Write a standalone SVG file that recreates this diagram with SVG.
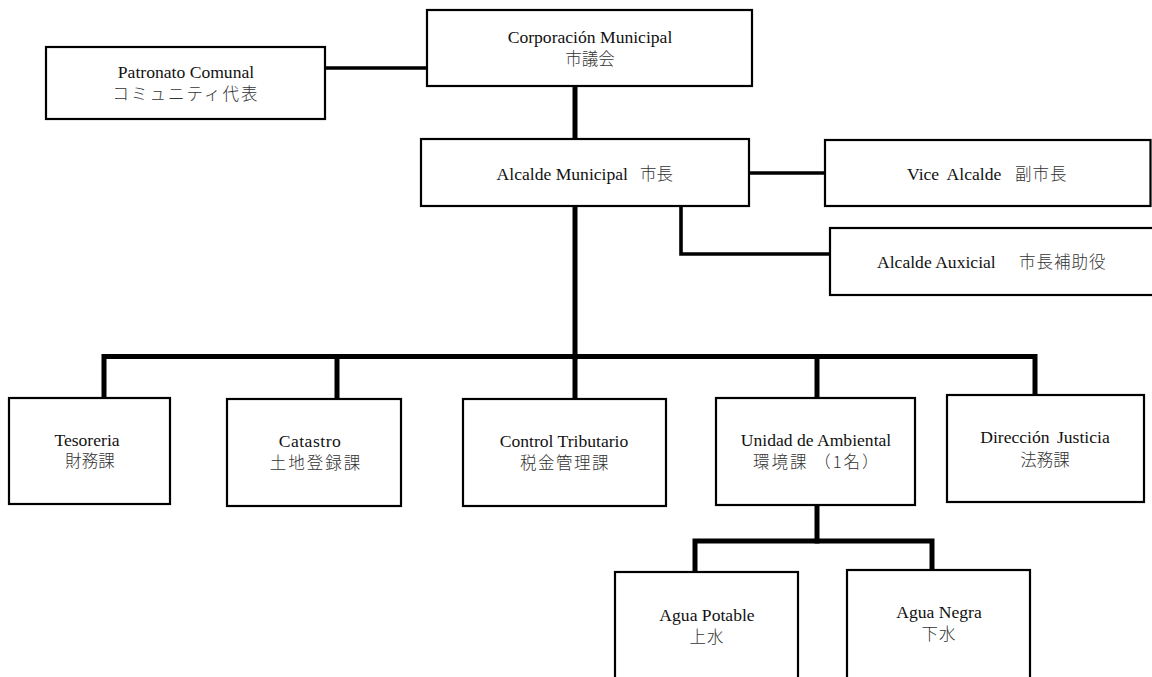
<svg xmlns="http://www.w3.org/2000/svg" width="1152" height="677" viewBox="0 0 1152 677">
  <style>
    .box { fill: #ffffff; stroke: #000000; stroke-width: 2.2; }
    .wire { fill: none; stroke: #000000; stroke-width: 5; stroke-linecap: square; stroke-linejoin: miter; }
    .thin { stroke-width: 3.6; }
    .lat { font-family: "Liberation Serif", "Times New Roman", serif; font-size: 17.6px; fill: #111111; }
    .jp { font-family: "Noto Sans CJK JP", "Noto Sans CJK SC", sans-serif; font-size: 16.5px; font-weight: 300; fill: #333333; }
    .mid { text-anchor: middle; }
  </style>
  <rect width="1152" height="677" fill="#ffffff"/>

  <!-- connectors -->
  <g id="connectors">
    <path class="wire thin" d="M326,68 H427"/>
    <path class="wire" d="M575,87 V139"/>
    <path class="wire thin" d="M750,173 H825"/>
    <path class="wire thin" d="M681,207 V254 H830"/>
    <path class="wire" d="M575,207 V357"/>
    <path class="wire" d="M104,398 V356.5 H1035 V395"/>
    <path class="wire" d="M337,357 V399"/>
    <path class="wire" d="M575,357 V399"/>
    <path class="wire" d="M817,357 V398"/>
    <path class="wire" d="M817,506 V541"/>
    <path class="wire" d="M695,572 V541 H932 V570"/>
  </g>

  <!-- governing bodies -->
  <g id="patronato">
    <rect class="box" x="46" y="47" width="279" height="72"/>
    <text class="lat mid" x="186" y="78">Patronato Comunal</text>
    <text class="jp mid" x="186" y="100" letter-spacing="2">コミュニティ代表</text>
  </g>
  <g id="corporacion">
    <rect class="box" x="427" y="10" width="325" height="76"/>
    <text class="lat mid" x="590" y="43">Corporación Municipal</text>
    <text class="jp mid" x="590" y="65">市議会</text>
  </g>
  <g id="alcalde">
    <rect class="box" x="421" y="139" width="328" height="67"/>
    <text class="lat" x="628" y="180" text-anchor="end">Alcalde Municipal</text>
    <text class="jp" x="640" y="180">市長</text>
  </g>
  <g id="vice-alcalde">
    <rect class="box" x="825" y="140" width="325.5" height="66"/>
    <text class="lat" x="907" y="180" word-spacing="4">Vice Alcalde</text>
    <text class="jp" x="1015" y="180" letter-spacing="1">副市長</text>
  </g>
  <g id="alcalde-auxicial">
    <rect class="box" x="830" y="228" width="330" height="67"/>
    <text class="lat" x="877" y="268">Alcalde Auxicial</text>
    <text class="jp" x="1019" y="268" letter-spacing="1">市長補助役</text>
  </g>

  <!-- departments -->
  <g id="tesoreria">
    <rect class="box" x="9" y="398" width="161" height="106"/>
    <text class="lat mid" x="87" y="446">Tesoreria</text>
    <text class="jp mid" x="90" y="467">財務課</text>
  </g>
  <g id="catastro">
    <rect class="box" x="227" y="399" width="174" height="107"/>
    <text class="lat mid" x="310" y="447" letter-spacing="0.5">Catastro</text>
    <text class="jp mid" x="316" y="469" letter-spacing="2">土地登録課</text>
  </g>
  <g id="control-tributario">
    <rect class="box" x="463" y="399" width="203" height="107"/>
    <text class="lat mid" x="564" y="447">Control Tributario</text>
    <text class="jp mid" x="565" y="469" letter-spacing="1.5">税金管理課</text>
  </g>
  <g id="unidad-ambiental">
    <rect class="box" x="716" y="398" width="199" height="107"/>
    <text class="lat mid" x="816" y="446">Unidad de Ambiental</text>
    <text class="jp" x="753" y="468" letter-spacing="2">環境課 （1名）</text>
  </g>
  <g id="direccion-justicia">
    <rect class="box" x="947" y="395" width="197" height="107"/>
    <text class="lat mid" x="1045" y="443" word-spacing="3">Dirección Justicia</text>
    <text class="jp mid" x="1045" y="466">法務課</text>
  </g>

  <!-- water sections -->
  <g id="agua-potable">
    <rect class="box" x="615" y="572" width="183" height="120"/>
    <text class="lat mid" x="707" y="621">Agua Potable</text>
    <text class="jp mid" x="707" y="643" letter-spacing="1">上水</text>
  </g>
  <g id="agua-negra">
    <rect class="box" x="847" y="570" width="183" height="120"/>
    <text class="lat mid" x="939" y="618">Agua Negra</text>
    <text class="jp mid" x="939" y="640" letter-spacing="1">下水</text>
  </g>
</svg>
